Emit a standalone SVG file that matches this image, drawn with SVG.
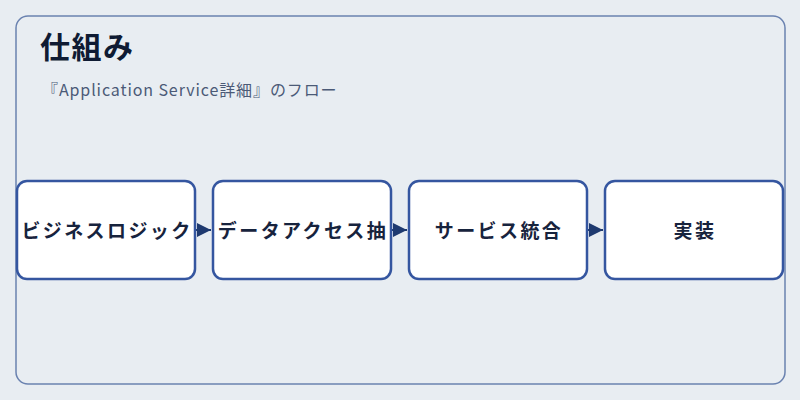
<svg xmlns="http://www.w3.org/2000/svg" width="800" height="400" viewBox="0 0 800 400">
<defs>
<style>
.frame{fill:#e8edf2;stroke:#6a82b0;stroke-width:1.5}
.box{fill:#ffffff;stroke:#3556a0;stroke-width:2.5}
.lbl{font-family:"Noto Sans CJK JP","Noto Sans",sans-serif;font-weight:bold;font-size:19px;fill:#17233d;text-anchor:middle;letter-spacing:2.4px}
.title{font-family:"Noto Sans CJK JP","Noto Sans",sans-serif;font-weight:bold;font-size:30px;fill:#0f1b33;letter-spacing:1.5px}
.sub{font-family:"Noto Sans CJK JP","Noto Sans",sans-serif;font-size:16px;fill:#4b5a77;letter-spacing:0.9px}
.conn{stroke:#1f3a70;stroke-width:2;fill:none}
</style>
<marker id="arr" viewBox="0 0 10 10" refX="10" refY="5" markerWidth="14" markerHeight="14" markerUnits="userSpaceOnUse" orient="auto">
<path d="M0,0 L10,5 L0,10 Z" fill="#1f3a70"/>
</marker>
</defs>
<rect width="800" height="400" fill="#e8edf2"/>
<rect class="frame" x="16" y="16" width="769" height="368" rx="12"/>
<text class="title" x="40" y="58">仕組み</text>
<text class="sub" x="42" y="96">『Application Service詳細』のフロー</text>
<g id="connectors">
<line class="conn" x1="196" y1="230" x2="211" y2="230" marker-end="url(#arr)"/>
<line class="conn" x1="392" y1="230" x2="407" y2="230" marker-end="url(#arr)"/>
<line class="conn" x1="588" y1="230" x2="603" y2="230" marker-end="url(#arr)"/>
</g>
<g id="node1">
<rect class="box" x="17" y="181" width="178" height="98" rx="10"/>
<text class="lbl" x="107" y="238">ビジネスロジック</text>
</g>
<g id="node2">
<rect class="box" x="213" y="181" width="178" height="98" rx="10"/>
<text class="lbl" x="303" y="238">データアクセス抽</text>
</g>
<g id="node3">
<rect class="box" x="409" y="181" width="178" height="98" rx="10"/>
<text class="lbl" x="499" y="238">サービス統合</text>
</g>
<g id="node4">
<rect class="box" x="605" y="181" width="178" height="98" rx="10"/>
<text class="lbl" x="695" y="238">実装</text>
</g>
</svg>
